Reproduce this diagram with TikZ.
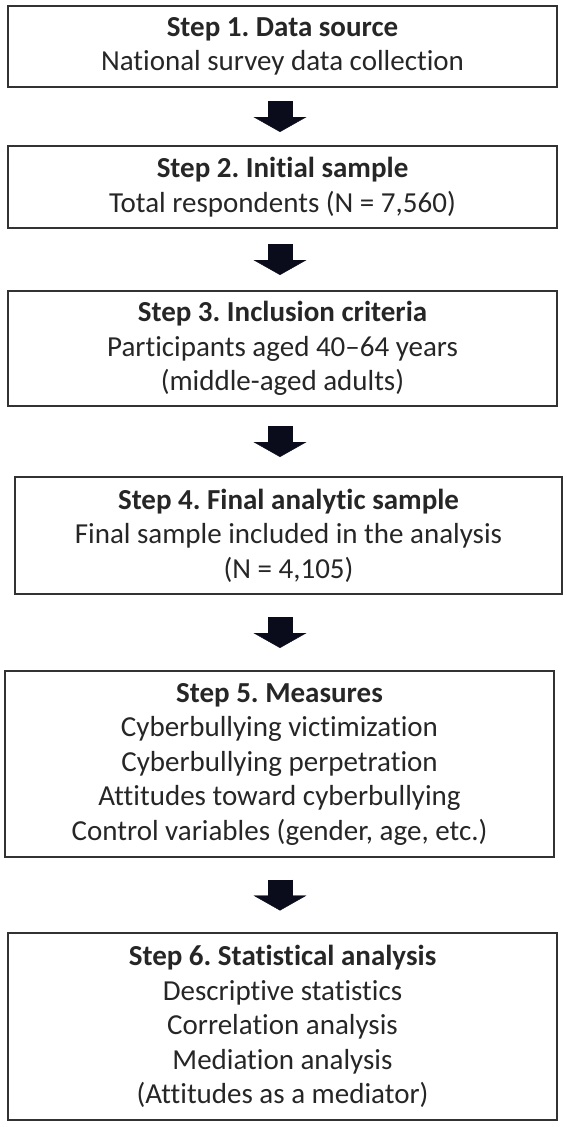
\documentclass[tikz,border=0pt]{standalone}
\usepackage{fontspec}
\setmainfont{Carlito}[Ligatures={TeX,NoCommon}]
\usetikzlibrary{arrows.meta}
\definecolor{boxline}{RGB}{50,50,50}
\definecolor{arrowink}{RGB}{10,12,28}
\frenchspacing

\begin{document}
\begin{tikzpicture}[x=1pt, y=-1pt,
    stepbox/.style={draw=boxline, line width=1.8pt, align=center, inner sep=0pt,
        minimum width=549pt, text=black!85, font=\fontsize{29}{34.5}\selectfont},
    blockarrow/.style={arrowink, line width=25pt,
        -{Triangle[width=53pt, length=15pt, line width=0.4pt]}}]
    \useasboundingbox (0,0) rectangle (567,1127);

    % Steps
    \node[stepbox, minimum height=81pt] (source) at (282.5,46.5)
        {\textbf{Step 1. Data source}\\National survey data collection};
    \node[stepbox, minimum height=82pt] (initial) at (282.5,187)
        {\textbf{Step 2. Initial sample}\\Total respondents (N = 7,560)};
    \node[stepbox, minimum height=115pt] (inclusion) at (282.5,348.5)
        {\textbf{Step 3. Inclusion criteria}\\Participants aged 40–64 years\\(middle-aged adults)};
    \node[stepbox, minimum width=547pt, minimum height=117pt] (final) at (288.5,535.5)
        {\textbf{Step 4. Final analytic sample}\\Final sample included in the analysis\\(N = 4,105)};
    \node[stepbox, minimum height=186pt] (measures) at (279.5,764)
        {\textbf{Step 5. Measures}\\Cyberbullying victimization\\Cyberbullying perpetration\\Attitudes toward cyberbullying\\Control variables (gender, age, etc.)};
    \node[stepbox, minimum height=187pt] (analysis) at (282.5,1026.5)
        {\textbf{Step 6. Statistical analysis}\\Descriptive statistics\\Correlation analysis\\Mediation analysis\\(Attitudes as a mediator)};

    % Block arrows between the steps
    \coordinate (ax) at (280,0);
    \foreach \a/\b in {source/initial, initial/inclusion, inclusion/final, final/measures, measures/analysis} {
        \path (\a.south) -- (\b.north) coordinate[pos=0.5] (mid);
        \draw[blockarrow] (mid -| ax) ++(0,-15.5) -- ++(0,31);
    }

\end{tikzpicture}
\end{document}
